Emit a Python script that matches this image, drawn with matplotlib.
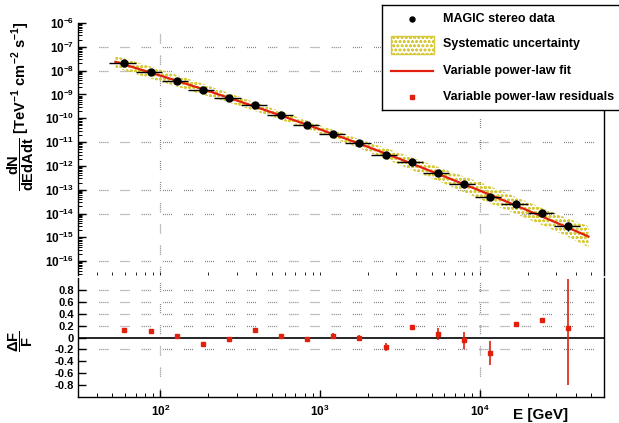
import matplotlib
matplotlib.use('Agg')
import matplotlib.pyplot as plt
from matplotlib.ticker import FixedLocator, FixedFormatter, NullFormatter
from matplotlib.patches import Rectangle
import numpy as np

plt.rcParams['font.family'] = ['Liberation Sans', 'DejaVu Sans']
plt.rcParams['font.weight'] = 'bold'
plt.rcParams['mathtext.fontset'] = 'custom'
plt.rcParams['mathtext.rm'] = 'Liberation Sans:bold'
plt.rcParams['mathtext.it'] = 'Liberation Sans:bold'
plt.rcParams['mathtext.bf'] = 'Liberation Sans:bold'
plt.rcParams['mathtext.sf'] = 'Liberation Sans:bold'
plt.rcParams['axes.unicode_minus'] = False
plt.rcParams['lines.scale_dashes'] = False
plt.rcParams['hatch.linewidth'] = 0.8

# MAGIC stereo spectral points (GeV, TeV^-1 cm^-2 s^-1)
energy = [59.0, 87.5, 127, 185, 270, 392, 571, 832, 1211, 1762, 2576, 3741,
          5486, 7980, 11670, 16950, 24660, 35830]
e_low = [48, 70, 103, 150, 218, 318, 463, 674, 982, 1430, 2085, 3036,
         4424, 6445, 9390, 13680, 19930, 29040]
e_high = [70, 103, 150, 218, 318, 463, 674, 982, 1430, 2085, 3036, 4424,
          6445, 9390, 13680, 19930, 29040, 42300]
flux = [2.01e-8, 8.93e-9, 3.75e-9, 1.57e-9, 7.26e-10, 3.48e-10, 1.41e-10,
        5.30e-11, 2.24e-11, 8.87e-12, 2.95e-12, 1.46e-12, 5.19e-13,
        1.74e-13, 4.82e-14, 2.60e-14, 1.03e-14, 3.10e-15]
flux_relerr = [0.04, 0.03, 0.03, 0.03, 0.03, 0.04, 0.05, 0.05, 0.06, 0.07,
               0.08, 0.10, 0.12, 0.15, 0.20, 0.20, 0.25, 0.40]

# variable power-law fit and systematic band
fit_e = [52.3, 100, 177.8, 316, 562, 1000, 1778, 3162, 5623, 10000,
         15400, 23714, 33960, 47970]
fit_f = [2.35e-8, 6.19e-9, 1.81e-9, 5.02e-10, 1.34e-10, 3.43e-11, 8.4e-12,
         1.95e-12, 4.3e-13, 9.2e-14, 2.8e-14, 8.3e-15, 2.95e-15, 1.08e-15]
band_lo = [1.32e-8, 3.47e-9, 1.06e-9, 3.25e-10, 8.9e-11, 2.29e-11, 5.44e-12,
           1.09e-12, 2.18e-13, 4.04e-14, 1.23e-14, 3.65e-15, 1.24e-15, 3.9e-16]
band_hi = [4.2e-8, 1.11e-8, 3.08e-9, 7.76e-10, 2.01e-10, 5.15e-11, 1.30e-11,
           3.48e-12, 8.46e-13, 2.09e-13, 6.37e-14, 1.89e-14, 7.04e-15, 2.97e-15]

# residuals (data - fit) / fit
resid = [0.12, 0.105, 0.027, -0.112, -0.028, 0.122, 0.027, -0.028, 0.027,
         -0.006, -0.156, 0.172, 0.06, -0.05, -0.262, 0.227, 0.293, 0.16]
resid_err_lo = [0.01, 0.01, 0.01, 0.01, 0.015, 0.015, 0.02, 0.04, 0.05,
                0.055, 0.067, 0.02, 0.105, 0.15, 0.2, 0.02, 0.02, 0.955]
resid_err_hi = [0.01, 0.01, 0.01, 0.01, 0.015, 0.015, 0.02, 0.04, 0.05,
                0.055, 0.067, 0.02, 0.105, 0.15, 0.2, 0.02, 0.02, 0.823]

# axis ticks
flux_exponents = [-16, -15, -14, -13, -12, -11, -10, -9, -8, -7, -6]
energy_exponents = [2, 3, 4]
resid_ticks = [-0.8, -0.6, -0.4, -0.2, 0, 0.2, 0.4, 0.6, 0.8]
resid_labels = ['-0.8', '-0.6', '-0.4', '-0.2', '0', '0.2', '0.4', '0.6', '0.8']

# grid lines as they show up in the picture
grid_flux = [1e-7, 1e-8, 1e-11, 1e-13, 1e-14, 1e-16]
grid_energy = [1e2, 1e4]
grid_resid = [0.8, 0.6, 0.4, 0.2, -0.2]

red = '#e0200c'
yellow = '#d6ca3a'
dots = (0, [0.4, 1.05, 0.4, 1.05, 0.4, 1.05, 0.4, 1.05, 0.4, 9.0])
grid_kw = dict(color='#222222', lw=0.9, linestyle=dots, zorder=1)

W, H = 619, 423
fig = plt.figure(figsize=(6.19, 4.23), dpi=100)
x0, x1 = 78, 604
ax1 = fig.add_axes([x0 / W, 1 - 275 / H, (x1 - x0) / W, (275 - 23) / H])
ax2 = fig.add_axes([x0 / W, 1 - 397 / H, (x1 - x0) / W, (397 - 278) / H])

xmin, xmax = 30.5, 6.0e4
ymin, ymax = 10 ** -16.58, 1e-6

# minor log ticks inside the visible ranges
sub = np.arange(2, 10)
e_minor = [s * 10.0 ** k for k in range(1, 5) for s in sub]
e_minor = [v for v in e_minor if xmin < v < xmax]
f_minor = [s * 10.0 ** k for k in range(-17, -6) for s in sub]
f_minor = [v for v in f_minor if ymin < v < ymax]

# --- top panel
ax1.set_xscale('log')
ax1.set_yscale('log')
ax1.set_xlim(xmin, xmax)
ax1.set_ylim(ymin, ymax)

for g in grid_flux:
    ax1.axhline(g, **grid_kw)
for g in grid_energy:
    ax1.axvline(g, **grid_kw)

ax1.fill_between(fit_e, band_lo, band_hi, facecolor='none', edgecolor=yellow,
                 linewidth=0, hatch='oooo', zorder=2)
ax1.plot(fit_e, fit_f, color=red, lw=1.6, zorder=3)

energy_a = np.array(energy)
xerr = [energy_a - np.array(e_low), np.array(e_high) - energy_a]
yerr = np.array(flux) * np.array(flux_relerr)
ax1.errorbar(energy, flux, xerr=xerr, yerr=yerr, fmt='o', color='black',
             ms=5, elinewidth=1.0, capsize=0, zorder=4)

for s in ['top', 'bottom']:
    ax1.spines[s].set_visible(False)
ax1.spines['left'].set_linewidth(1.0)
ax1.spines['right'].set_linewidth(1.0)
ax1.yaxis.set_major_locator(FixedLocator([10.0 ** e for e in flux_exponents]))
ax1.yaxis.set_major_formatter(FixedFormatter([r'$10^{%d}$' % e for e in flux_exponents]))
ax1.yaxis.set_minor_locator(FixedLocator(f_minor))
ax1.yaxis.set_minor_formatter(NullFormatter())
ax1.tick_params(axis='y', which='major', direction='in', length=6, width=1,
                labelsize=8.5, pad=3, right=False)
ax1.tick_params(axis='y', which='minor', direction='in', length=3, width=0.7, right=False)
ax1.xaxis.set_major_locator(FixedLocator([10.0 ** e for e in energy_exponents]))
ax1.xaxis.set_minor_locator(FixedLocator(e_minor))
ax1.xaxis.set_major_formatter(NullFormatter())
ax1.xaxis.set_minor_formatter(NullFormatter())
ax1.tick_params(axis='x', which='both', direction='in', labelbottom=False,
                length=2.5, width=0.6)
ax1.patch.set_alpha(0)

# --- residual panel
ax2.set_xscale('log')
ax2.set_xlim(xmin, xmax)
ax2.set_ylim(-1, 1)
for g in grid_resid:
    ax2.axhline(g, **grid_kw)
for g in grid_energy:
    ax2.axvline(g, **grid_kw)
ax2.axhline(0, color='black', lw=1.2, zorder=2)
ax2.errorbar(energy, resid, yerr=[resid_err_lo, resid_err_hi], fmt='s',
             color=red, ms=3.4, elinewidth=1.2, capsize=0, zorder=3)

ax2.spines['top'].set_visible(False)
for s in ['left', 'right', 'bottom']:
    ax2.spines[s].set_linewidth(1.0)
ax2.yaxis.set_major_locator(FixedLocator(resid_ticks))
ax2.yaxis.set_major_formatter(FixedFormatter(resid_labels))
ax2.tick_params(axis='y', direction='in', length=6, width=1, labelsize=8, pad=3)
ax2.xaxis.set_major_locator(FixedLocator([10.0 ** e for e in energy_exponents]))
ax2.xaxis.set_major_formatter(FixedFormatter([r'$10^{%d}$' % e for e in energy_exponents]))
ax2.xaxis.set_minor_locator(FixedLocator(e_minor))
ax2.xaxis.set_minor_formatter(NullFormatter())
ax2.tick_params(axis='x', which='major', direction='in', length=5, width=1,
                labelsize=8.5, pad=5)
ax2.tick_params(axis='x', which='minor', direction='in', length=3, width=0.7)
ax2.patch.set_alpha(0)

# --- axis titles
fig.text(21 / W, 1 - 106 / H,
         r'$\dfrac{dN}{dEdAdt}$ [TeV$^{-1}$ cm$^{-2}$ s$^{-1}$]',
         rotation=90, ha='center', va='center', fontsize=10.5)
fig.text(21 / W, 1 - 341 / H, r'$\dfrac{\Delta F}{F}$',
         rotation=90, ha='center', va='center', fontsize=10.5)
fig.text(568 / W, 1 - 415 / H, 'E [GeV]', ha='right', va='center', fontsize=11)

# --- legend box
leg = fig.add_axes([382 / W, 1 - 110 / H, (650 - 382) / W, (110 - 5) / H])
leg.set_xlim(382, 650)
leg.set_ylim(110, 5)
leg.set_xticks([])
leg.set_yticks([])
for s in leg.spines.values():
    s.set_linewidth(1.0)
leg.plot([412], [19], 'o', color='black', ms=3.6)
leg.add_patch(Rectangle((391, 36), 43, 18, facecolor='none', edgecolor=yellow,
                        lw=1.0, hatch='oooo'))
leg.plot([391, 433], [71, 71], color=red, lw=1.6)
leg.plot([412], [97], 's', color=red, ms=2.4)
leg_labels = ['MAGIC stereo data', 'Systematic uncertainty',
              'Variable power-law fit', 'Variable power-law residuals']
for yy, t in zip([19, 44, 71, 97], leg_labels):
    leg.text(443, yy, t, ha='left', va='center', fontsize=9)

fig.savefig('out.png', dpi=100)
